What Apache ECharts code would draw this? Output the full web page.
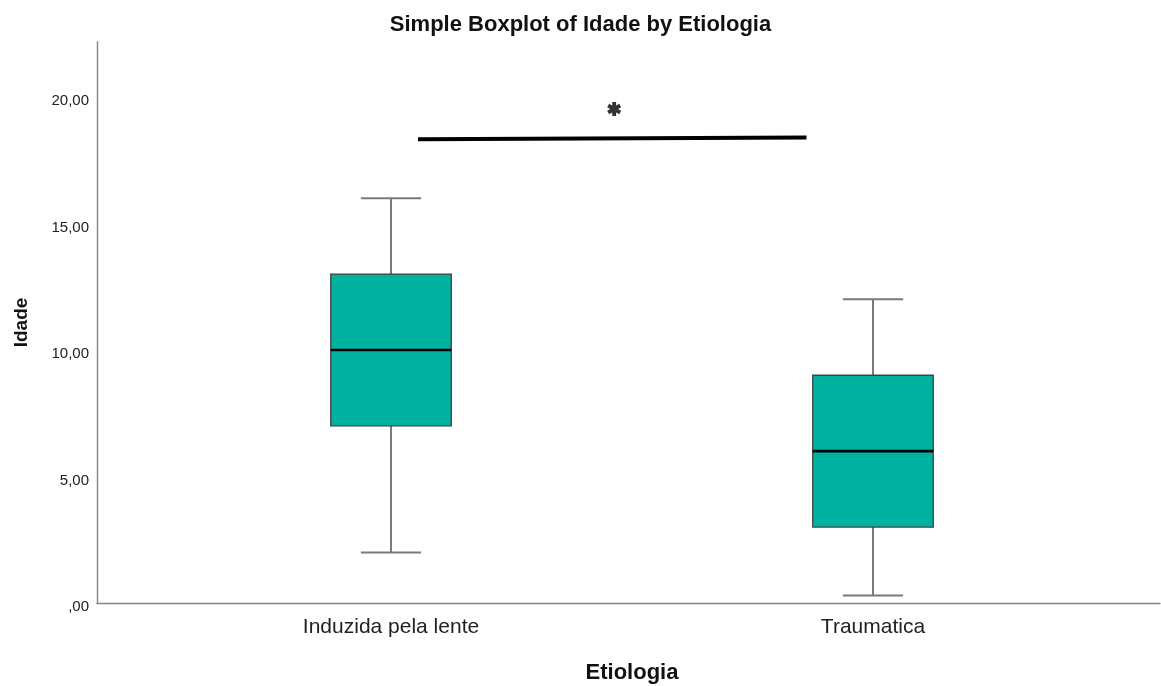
<!DOCTYPE html>
<html>
<head>
<meta charset="utf-8">
<script src="https://cdn.jsdelivr.net/npm/echarts@6/dist/echarts.min.js"></script>
<style>
  html, body { margin: 0; padding: 0; background: #fff; }
</style>
</head>
<body>
<div id="EChart_box" style="width: 1161px; height: 686px;"></div>
<script>
// categories and five-number summaries
let categories = ['Induzida pela lente', 'Traumatica']
let lowWhisker = [2, 0.3]
let q1 = [7, 3]
let median = [10, 6]
let q3 = [13, 9]
let highWhisker = [16, 12]

// significance bar and star, x in category units (0 = first box, 1 = second)
let sigLineX = [0.056, 0.862]
let sigLineY = [18.33, 18.40]
let starX = 0.463
let starY = 19.52

let yTickValues = [0, 5, 10, 15, 20]
let yTickLabels = [',00', '5,00', '10,00', '15,00', '20,00']
let yMax = 22.17

let boxData = categories.map((c, i) => [i, lowWhisker[i], q1[i], median[i], q3[i], highWhisker[i]])

let starPath = 'path://M36 0L64 0L64 100L36 100Z' +
  'M13.7 87.12L-0.3 62.88L86.3 12.88L100.3 37.12Z' +
  'M-0.3 37.12L13.7 12.88L100.3 62.88L86.3 87.12Z'

let axisGrey = '#858585'

let EChart = echarts.init(document.getElementById('EChart_box'))
let option = {
  backgroundColor: '#fff',
  animation: false,
  title: {
    text: 'Simple Boxplot of Idade by Etiologia',
    left: 'center',
    top: 9,
    textStyle: {
      fontFamily: 'Liberation Sans, Arial, sans-serif',
      fontSize: 22,
      fontWeight: 'bold',
      color: '#111'
    }
  },
  grid: [
    { left: 97, right: 1, top: 42, bottom: 83, outerBoundsMode: 'none' },
    { left: 150, right: 47, top: 42, bottom: 83, outerBoundsMode: 'none' }
  ],
  xAxis: [
    {
      // the long axis line along the bottom
      gridIndex: 0,
      type: 'value',
      min: 0,
      max: 1,
      axisLine: { show: true, lineStyle: { color: axisGrey, width: 1.4 } },
      axisTick: { show: false },
      axisLabel: { show: false },
      splitLine: { show: false }
    },
    {
      gridIndex: 1,
      type: 'category',
      data: categories,
      axisLine: { show: false },
      axisTick: { show: false },
      axisLabel: {
        margin: 14,
        fontFamily: 'Liberation Sans, Arial, sans-serif',
        fontSize: 21,
        color: '#222'
      },
      name: 'Etiologia',
      nameLocation: 'middle',
      nameGap: 59,
      nameTextStyle: {
        fontFamily: 'Liberation Sans, Arial, sans-serif',
        fontSize: 22,
        fontWeight: 'bold',
        color: '#111'
      }
    },
    {
      gridIndex: 1,
      type: 'value',
      min: -0.5,
      max: 1.5,
      show: false
    }
  ],
  yAxis: [
    {
      gridIndex: 0,
      type: 'value',
      min: 0,
      max: yMax,
      interval: 5,
      axisLine: { show: true, lineStyle: { color: axisGrey, width: 1.4 } },
      axisTick: { show: false },
      splitLine: { show: false },
      axisLabel: {
        margin: 8,
        showMaxLabel: false,
        fontFamily: 'Liberation Sans, Arial, sans-serif',
        fontSize: 15,
        color: '#222',
        formatter: (value) => {
          let i = yTickValues.indexOf(value)
          return i >= 0 ? '{t|' + yTickLabels[i] + '}' : ''
        },
        rich: {
          t: {
            fontFamily: 'Liberation Sans, Arial, sans-serif',
            fontSize: 15,
            color: '#222',
            padding: [8, 0, 0, 0]
          }
        }
      },
      name: 'Idade',
      nameLocation: 'middle',
      nameGap: 66,
      nameTextStyle: {
        fontFamily: 'Liberation Sans, Arial, sans-serif',
        fontSize: 19,
        fontWeight: 'bold',
        color: '#111'
      }
    },
    {
      gridIndex: 1,
      type: 'value',
      min: 0,
      max: yMax,
      show: false
    }
  ],
  series: [
    {
      type: 'custom',
      xAxisIndex: 1,
      yAxisIndex: 1,
      data: boxData,
      encode: { x: 0, y: [1, 2, 3, 4, 5] },
      renderItem: (params, api) => {
        let x = api.value(0)
        let lo = api.coord([x, api.value(1)])
        let b1 = api.coord([x, api.value(2)])
        let md = api.coord([x, api.value(3)])
        let b3 = api.coord([x, api.value(4)])
        let hi = api.coord([x, api.value(5)])
        let band = api.size([1, 0])[0]
        let bw = band * 0.25
        let cw = band * 0.125
        let cx = lo[0]
        let whisker = { stroke: '#7a7a7a', lineWidth: 2 }
        return {
          type: 'group',
          children: [
            { type: 'line', shape: { x1: cx, y1: lo[1], x2: cx, y2: b1[1] }, style: whisker },
            { type: 'line', shape: { x1: cx, y1: b3[1], x2: cx, y2: hi[1] }, style: whisker },
            { type: 'line', shape: { x1: cx - cw / 2, y1: lo[1], x2: cx + cw / 2, y2: lo[1] }, style: whisker },
            { type: 'line', shape: { x1: cx - cw / 2, y1: hi[1], x2: cx + cw / 2, y2: hi[1] }, style: whisker },
            {
              type: 'rect',
              shape: { x: cx - bw / 2, y: b3[1], width: bw, height: b1[1] - b3[1] },
              style: { fill: '#00b2a0', stroke: '#404040', lineWidth: 1.3 }
            },
            {
              type: 'line',
              shape: { x1: cx - bw / 2, y1: md[1], x2: cx + bw / 2, y2: md[1] },
              style: { stroke: '#000', lineWidth: 2.6 }
            }
          ]
        }
      }
    },
    {
      type: 'line',
      xAxisIndex: 2,
      yAxisIndex: 1,
      symbol: 'none',
      lineStyle: { color: '#000', width: 4 },
      data: sigLineX.map((x, i) => [x, sigLineY[i]])
    },
    {
      type: 'scatter',
      xAxisIndex: 2,
      yAxisIndex: 1,
      symbol: starPath,
      symbolSize: 14,
      itemStyle: { color: '#000' },
      data: [[starX, starY]]
    }
  ]
}
EChart.setOption(option)
</script>
</body>
</html>
